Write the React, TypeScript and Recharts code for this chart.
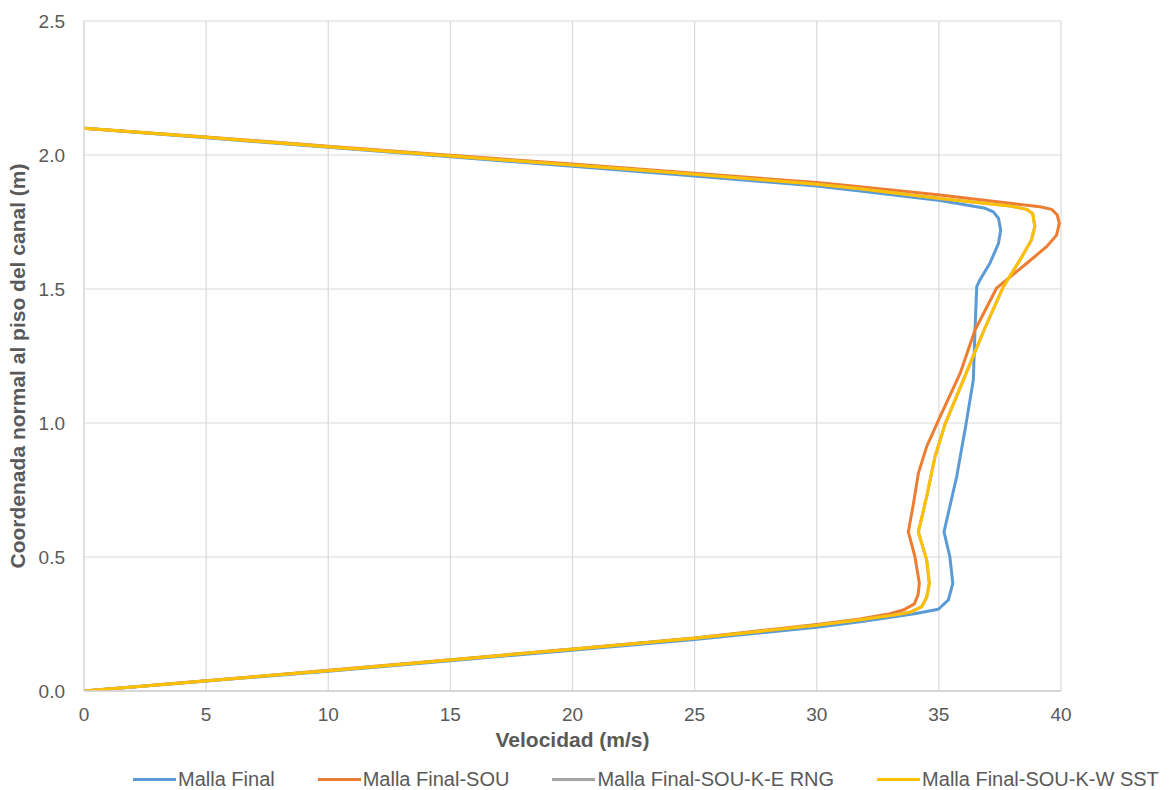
import React from "react";
import {
  LineChart,
  Line,
  XAxis,
  YAxis,
  CartesianGrid,
  Legend,
  Label,
} from "recharts";

// ---- Data ----
const xTicks = [0, 5, 10, 15, 20, 25, 30, 35, 40];
const yTicks = [0, 0.5, 1.0, 1.5, 2.0, 2.5];

const seriesNames = [
  "Malla Final",
  "Malla Final-SOU",
  "Malla Final-SOU-K-E RNG",
  "Malla Final-SOU-K-W SST",
];
const seriesColors = ["#5B9BD5", "#ED7D31", "#A5A5A5", "#FFC000"];

// Malla Final
const mallaFinalV = [
  0, 10, 15, 20, 25, 30, 31.77, 34.0, 34.98, 35.39, 35.57, 35.45, 35.21, 35.73,
  36.11, 36.41, 36.48, 36.55, 36.68, 37.09, 37.44, 37.53, 37.44, 37.23, 36.9,
  35.05, 31.77, 30, 25, 20, 15, 10, 5, 0,
];
const mallaFinalY = [
  0, 0.074, 0.113, 0.152, 0.192, 0.238, 0.258, 0.288, 0.305, 0.34, 0.402, 0.501,
  0.594, 0.8, 0.995, 1.16, 1.347, 1.509, 1.534, 1.596, 1.67, 1.72, 1.764, 1.788,
  1.801, 1.83, 1.866, 1.884, 1.922, 1.958, 1.993, 2.029, 2.064, 2.1,
];

// Malla Final-SOU
const souV = [
  0, 10, 15, 20, 25, 30, 31.77, 33.0, 33.54, 34.0, 34.15, 34.2, 34.02, 33.75,
  33.96, 34.16, 34.5, 35.05, 35.87, 36.48, 37.36, 37.77, 38.6, 39.41, 39.82,
  39.93, 39.85, 39.62, 39.14, 37.91, 35.05, 31.77, 30, 25, 20, 15, 10, 5, 0,
];
const souY = [
  0, 0.077, 0.117, 0.157, 0.198, 0.248, 0.269, 0.288, 0.302, 0.325, 0.36, 0.402,
  0.501, 0.594, 0.7, 0.812, 0.912, 1.024, 1.185, 1.347, 1.503, 1.534, 1.596,
  1.658, 1.701, 1.745, 1.776, 1.797, 1.807, 1.82, 1.851, 1.882, 1.897, 1.932,
  1.966, 1.999, 2.033, 2.067, 2.1,
];

// Malla Final-SOU-K-E RNG (hidden under the SST curve in the reference)
const rngV = [
  0, 10, 15, 20, 25, 30, 31.77, 33.3, 33.89, 34.3, 34.5, 34.61, 34.5, 34.16,
  34.5, 34.84, 35.25, 36.0, 36.85, 37.64, 38.32, 38.79, 38.93, 38.84, 38.6,
  37.91, 35.05, 31.77, 30, 25, 20, 15, 10, 5, 0,
];
const rngY = [
  0, 0.076, 0.116, 0.156, 0.197, 0.245, 0.266, 0.285, 0.296, 0.315, 0.35, 0.402,
  0.489, 0.594, 0.725, 0.874, 0.995, 1.16, 1.347, 1.509, 1.608, 1.683, 1.733,
  1.782, 1.797, 1.81, 1.838, 1.874, 1.891, 1.928, 1.963, 1.996, 2.031, 2.066,
  2.1,
];

// Malla Final-SOU-K-W SST
const sstV = [
  0, 10, 15, 20, 25, 30, 31.77, 33.3, 33.89, 34.3, 34.5, 34.61, 34.5, 34.16,
  34.5, 34.84, 35.25, 36.0, 36.85, 37.64, 38.32, 38.79, 38.93, 38.84, 38.6,
  37.91, 35.05, 31.77, 30, 25, 20, 15, 10, 5, 0,
];
const sstY = [
  0, 0.076, 0.116, 0.156, 0.197, 0.245, 0.266, 0.285, 0.296, 0.315, 0.35, 0.402,
  0.489, 0.594, 0.725, 0.874, 0.995, 1.16, 1.347, 1.509, 1.608, 1.683, 1.733,
  1.782, 1.797, 1.81, 1.838, 1.874, 1.891, 1.928, 1.963, 1.996, 2.031, 2.066,
  2.1,
];

const toPoints = (vs: number[], ys: number[]) =>
  vs.map((v, i) => ({ v, y: ys[i] }));

const series = [
  toPoints(mallaFinalV, mallaFinalY),
  toPoints(souV, souY),
  toPoints(rngV, rngY),
  toPoints(sstV, sstY),
];

const FONT = "'Liberation Sans', Arial, Helvetica, sans-serif";
const TEXT = "#595959";

const LegendContent = () => (
  <div
    style={{
      display: "flex",
      alignItems: "center",
      paddingLeft: 133,
      fontFamily: FONT,
      fontSize: 20,
      color: TEXT,
      lineHeight: "24px",
      whiteSpace: "nowrap",
    }}
  >
    {seriesNames.map((name, i) => (
      <div
        key={name}
        style={{ display: "flex", alignItems: "center", marginRight: 43 }}
      >
        <span
          style={{
            display: "inline-block",
            width: 43,
            height: 3,
            background: seriesColors[i],
            marginRight: 2,
          }}
        />
        <span>{name}</span>
      </div>
    ))}
  </div>
);

const XTitle = (props: any) => {
  const vb = props.viewBox || { x: 0, y: 0, width: 0, height: 0 };
  return (
    <text
      x={vb.x + vb.width / 2}
      y={vb.y + 56}
      textAnchor="middle"
      fill={TEXT}
      fontFamily={FONT}
      fontSize={21}
      fontWeight="bold"
    >
      Velocidad (m/s)
    </text>
  );
};

const YTitle = (props: any) => {
  const vb = props.viewBox || { x: 0, y: 0, width: 0, height: 0 };
  const cx = vb.x + 2;
  const cy = vb.y + vb.height / 2 + 10;
  return (
    <text
      x={cx}
      y={cy}
      transform={`rotate(-90 ${cx} ${cy})`}
      textAnchor="middle"
      dominantBaseline="central"
      fill={TEXT}
      fontFamily={FONT}
      fontSize={21}
      fontWeight="bold"
    >
      Coordenada normal al piso del canal (m)
    </text>
  );
};

export default function App() {
  return (
    <div
      style={{
        position: "absolute",
        left: 0,
        top: 0,
        width: 1170,
        height: 790,
        background: "#fff",
        fontFamily: FONT,
      }}
    >
      <LineChart
        width={1170}
        height={790}
        margin={{ top: 21, right: 109, left: 15, bottom: 69 }}
      >
        <CartesianGrid stroke="#d9d9d9" strokeWidth={1.2} />
        <XAxis
          dataKey="v"
          type="number"
          domain={[0, 40]}
          ticks={xTicks}
          allowDataOverflow
          height={30}
          tickLine={false}
          tickSize={6}
          tickMargin={11}
          axisLine={{ stroke: "#d0d0d0", strokeWidth: 1.5 }}
          tick={{ fill: TEXT, fontSize: 19, fontFamily: FONT }}
          interval={0}
        >
          <Label content={<XTitle />} />
        </XAxis>
        <YAxis
          type="number"
          dataKey="y"
          domain={[0, 2.5]}
          ticks={yTicks}
          allowDataOverflow
          width={69}
          tickLine={false}
          tickSize={6}
          tickMargin={13}
          axisLine={{ stroke: "#d9d9d9", strokeWidth: 1.2 }}
          tick={{ fill: TEXT, fontSize: 19, fontFamily: FONT }}
          tickFormatter={(t: number) => t.toFixed(1)}
          interval={0}
        >
          <Label content={<YTitle />} />
        </YAxis>
        <Legend
          layout="horizontal"
          align="center"
          verticalAlign="middle"
          content={<LegendContent />}
          wrapperStyle={{ top: 767, left: 0, width: 1170 }}
        />
        {series.map((data, i) => (
          <Line
            key={seriesNames[i]}
            name={seriesNames[i]}
            data={data}
            dataKey="y"
            type="linear"
            stroke={seriesColors[i]}
            strokeWidth={3}
            dot={false}
            activeDot={false}
            isAnimationActive={false}
            strokeLinejoin="round"
            strokeLinecap="round"
          />
        ))}
      </LineChart>
    </div>
  );
}
